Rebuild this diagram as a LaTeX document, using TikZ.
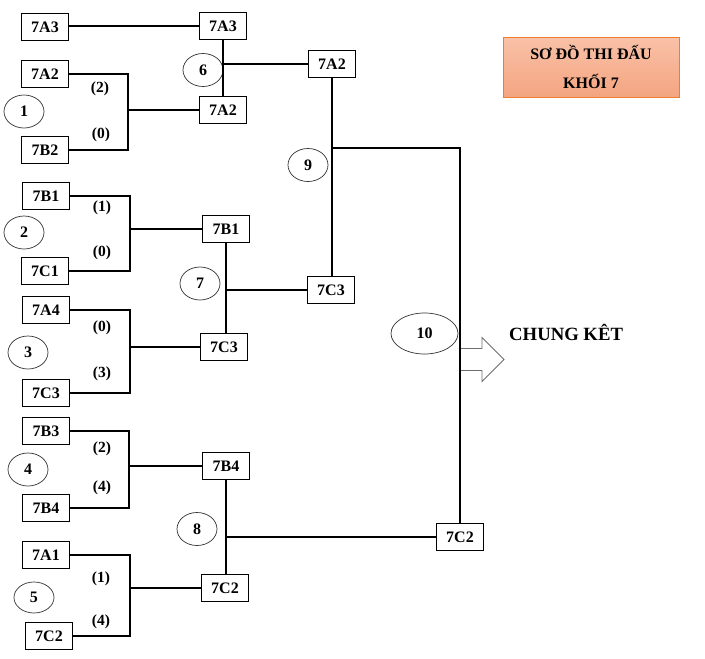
\documentclass[tikz,border=0pt]{standalone}
\usepackage{fontspec}
\setmainfont{Liberation Serif}
\usetikzlibrary{shapes.geometric}
\definecolor{ttorange}{RGB}{237,125,49}
\definecolor{tttop}{RGB}{249,194,168}
\definecolor{ttbot}{RGB}{244,164,128}
\definecolor{ttgrey}{RGB}{110,110,110}
\tikzset{
  team/.style={draw, line width=1pt, minimum width=47pt, minimum height=27pt, inner sep=0pt,
    font=\fontsize{16}{19}\selectfont\bfseries},
  match/.style={draw=black!80, line width=0.7pt, ellipse, minimum width=40pt, minimum height=33pt, inner sep=0pt,
    font=\fontsize{16}{19}\selectfont\bfseries},
  score/.style={font=\fontsize{15.5}{18}\selectfont\bfseries, inner sep=0pt},
  link/.style={line width=2pt},
}
\begin{document}
\begin{tikzpicture}[x=1pt,y=-1pt]
\useasboundingbox (0,0) rectangle (705,659);
% final arrow (drawn first, the vertical line passes over its open end)
\coordinate (ab) at (460,337);
\draw[ttgrey, line width=0.8pt, fill=white]
  ([yshift=-11.5pt]ab) -- ++(22,0) -- ++(0,-11) -- ++(22,22) -- ++(-22,22) -- ++(0,-11) -- ++(-22,0);
% first round
\node[team] (L1) at (45,27) {7A3};
\node[team] (L2) at (45,74) {7A2};
\node[team] (L3) at (45,150) {7B2};
\node[team] (L4) at (46,196) {7B1};
\node[team] (L5) at (45,271) {7C1};
\node[team] (L6) at (46,310) {7A4};
\node[team] (L7) at (46,393) {7C3};
\node[team] (L8) at (46,431) {7B3};
\node[team] (L9) at (46,508) {7B4};
\node[team] (L10) at (46,555) {7A1};
\node[team] (L11) at (49,636) {7C2};
% second round
\node[team] (R1) at (223,26) {7A3};
\node[team] (R2) at (223,110) {7A2};
\node[team] (R3) at (226,229) {7B1};
\node[team] (R4) at (224,347) {7C3};
\node[team] (R5) at (226,466) {7B4};
\node[team] (R6) at (225,588) {7C2};
% third round
\node[team] (S1) at (332,64) {7A2};
\node[team] (S2) at (331,290) {7C3};
\node[team] (F) at (460,537) {7C2};
% match ellipses
\node[match] (e1) at (24,111.5) {1};
\node[match] (e2) at (24,232.5) {2};
\node[match] (e3) at (28,352.5) {3};
\node[match] (e4) at (28,469.5) {4};
\node[match, minimum height=31pt] (e5) at (34,597.5) {5};
\node[match] (e6) at (203,70) {6};
\node[match] (e7) at (200,283.5) {7};
\node[match] (e8) at (197,529) {8};
\node[match] (e9) at (308,165) {9};
\node[match, minimum width=67pt, minimum height=41pt] (e10) at (424.5,333.5) {10};
% scores
\node[score] (s1a) at (100,89) {(2)};
\node[score] (s1b) at (101,135) {(0)};
\node[score] (s2a) at (102,208) {(1)};
\node[score] (s2b) at (102,253) {(0)};
\node[score] (s3a) at (102,328) {(0)};
\node[score] (s3b) at (102,374) {(3)};
\node[score] (s4a) at (102,449) {(2)};
\node[score] (s4b) at (102,488) {(4)};
\node[score] (s5a) at (101,579) {(1)};
\node[score] (s5b) at (101,622) {(4)};
% junctions
\coordinate (j1) at (128,110);
\coordinate (j2) at (130,229);
\coordinate (j3) at (130,347);
\coordinate (j4) at (129,466);
\coordinate (j5) at (130,588);
\coordinate (j6) at (223,64);
\coordinate (j7) at (226,290);
\coordinate (j8) at (226,537);
\coordinate (j9) at (332,148);
% connectors
\draw[link] (L1.east |- R1) -- (R1.west);
\draw[link] (L2.east) -| (j1) |- (L3.east);
\draw[link] (j1) -- (R2);
\draw[link] (L4.east) -| (j2) |- (L5.east);
\draw[link] (j2) -- (R3);
\draw[link] (L6.east) -| (j3) |- (L7.east);
\draw[link] (j3) -- (R4);
\draw[link] (L8.east) -| (j4) |- (L9.east);
\draw[link] (j4) -- (R5);
\draw[link] (L10.east) -| (j5) |- (L11.east);
\draw[link] (j5) -- (R6);
\draw[link] (R1.south) -- (R2.north);
\draw[link] (j6) -- (S1);
\draw[link] (R3.south) -- (R3.south |- R4.north);
\draw[link] (j7) -- (S2);
\draw[link] (R5.south) -- (R5.south |- R6.north);
\draw[link] (j8) -- (F);
\draw[link] (S1.south) -- (S1.south |- S2.north);
\draw[link] (j9) -| (F.north);
\node[anchor=west, inner sep=0pt, font=\fontsize{18.7}{22}\selectfont\bfseries] (ck) at (509,332) {CHUNG KÊT};
% title
\node[draw=ttorange, line width=1pt, top color=tttop, bottom color=ttbot,
  minimum width=176pt, minimum height=60pt, inner sep=0pt, align=center,
  font=\fontsize{16}{29}\selectfont\bfseries] (title) at (591,67) {SƠ ĐỒ THI ĐẤU\\KHỐI 7};
\end{tikzpicture}
\end{document}
